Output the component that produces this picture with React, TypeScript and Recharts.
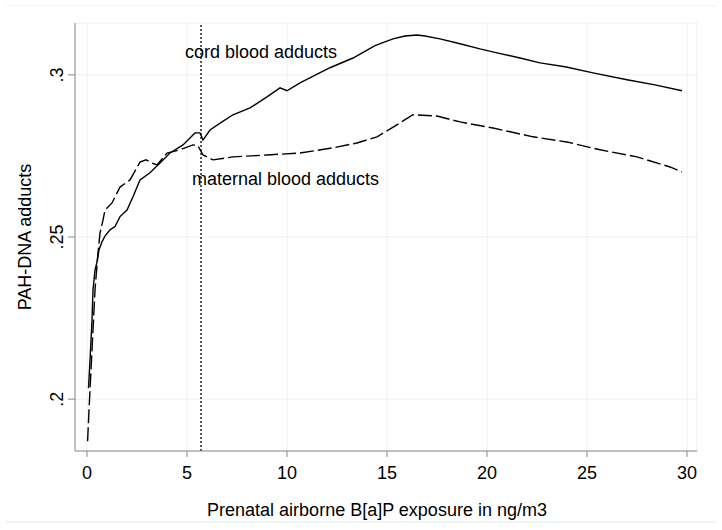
import React from 'react';
import {
  LineChart, Line, XAxis, YAxis, CartesianGrid, ReferenceLine, ReferenceDot,
} from 'recharts';

const cordX = [0.075, 0.15, 0.25, 0.3, 0.4, 0.5, 0.6, 0.75, 0.9, 1.15, 1.4, 1.65, 2.0, 2.3, 2.65, 3.15, 3.65, 4.15, 4.8, 5.4, 5.65, 5.8, 6.15, 6.75, 7.3, 8.15, 9.0, 9.65, 10.0, 10.65, 12.15, 13.3, 14.4, 15.3, 15.9, 16.5, 16.9, 17.65, 18.65, 19.65, 20.5, 21.65, 22.65, 23.9, 25.3, 27.0, 28.4, 29.75];
const cordY = [0.2034, 0.2120, 0.2244, 0.2336, 0.2398, 0.2423, 0.2460, 0.2485, 0.2503, 0.2522, 0.2532, 0.2563, 0.2583, 0.2624, 0.2676, 0.2698, 0.2728, 0.2759, 0.2784, 0.2821, 0.2821, 0.2799, 0.2830, 0.2855, 0.2877, 0.2898, 0.2932, 0.2960, 0.2951, 0.2975, 0.3022, 0.3052, 0.3090, 0.3111, 0.3120, 0.3123, 0.3120, 0.3111, 0.3096, 0.3080, 0.3068, 0.3052, 0.3037, 0.3025, 0.3006, 0.2985, 0.2969, 0.2951];

const maternalX = [0.03, 0.1, 0.2, 0.3, 0.4, 0.48, 0.55, 0.65, 0.8, 0.9, 1.25, 1.65, 2.15, 2.65, 2.95, 3.25, 3.5, 4.0, 4.65, 5.3, 5.55, 5.8, 6.3, 7.3, 9.0, 10.65, 12.3, 13.5, 14.5, 15.65, 16.3, 17.5, 18.65, 20.3, 22.3, 24.0, 25.65, 27.5, 29.15, 29.75];
const maternalY = [0.1870, 0.1966, 0.2090, 0.2213, 0.2336, 0.2398, 0.2451, 0.2512, 0.2552, 0.2583, 0.2605, 0.2654, 0.2676, 0.2731, 0.2738, 0.2728, 0.2722, 0.2759, 0.2769, 0.2784, 0.2781, 0.2753, 0.2738, 0.2747, 0.2753, 0.2759, 0.2775, 0.2790, 0.2809, 0.2852, 0.2877, 0.2873, 0.2855, 0.2836, 0.2809, 0.2793, 0.2769, 0.2747, 0.2716, 0.2701];

const xTicks = [0, 5, 10, 15, 20, 25, 30];
const yTicks = [0.2, 0.25, 0.3];
const yTickLabels = ['.2', '.25', '.3'];
const cutoffX = 5.7;

const cordData = cordX.map((x, i) => ({ x, y: cordY[i] }));
const maternalData = maternalX.map((x, i) => ({ x, y: maternalY[i] }));

const FONT = '"Liberation Sans", Arial, sans-serif';
const FS = 18;
const AXIS_COLOR = '#8a8a8a';

const YTick = (props: any) => {
  const { x, y, payload } = props;
  const idx = yTicks.indexOf(payload.value);
  const label = idx >= 0 ? yTickLabels[idx] : String(payload.value);
  return (
    <text
      x={x}
      y={y}
      transform={`rotate(-90 ${x} ${y})`}
      textAnchor="middle"
      dy="0.35em"
      fontSize={FS}
      fontFamily={FONT}
      fill="#000"
    >
      {label}
    </text>
  );
};

export default function App() {
  return (
    <div style={{ position: 'absolute', left: 0, top: 0, width: 722, height: 530, background: '#fff' }}>
      <div style={{ position: 'absolute', left: 6, top: 5, width: 710, height: 518, borderTop: '1px solid #f2f2f2', borderBottom: '2px solid #ecf7f5', boxSizing: 'border-box' }} />
      <LineChart
        width={722}
        height={530}
        margin={{ top: 23, right: 25, bottom: 8, left: 0 }}
        style={{ fontFamily: FONT, position: 'relative' }}
      >
        <CartesianGrid stroke="#eef0f1" strokeWidth={1} />
        <XAxis
          type="number"
          dataKey="x"
          domain={[-0.6, 30.5]}
          ticks={xTicks}
          allowDataOverflow
          height={71}
          tickSize={6}
          tickMargin={9}
          stroke={AXIS_COLOR}
          tick={{ fill: '#000', fontSize: FS, fontFamily: FONT }}
          label={{
            value: 'Prenatal airborne B[a]P exposure in ng/m3',
            position: 'insideBottom',
            offset: 6,
            dx: -9,
            fill: '#000',
            fontSize: FS,
            fontFamily: FONT,
          }}
        />
        <YAxis
          type="number"
          dataKey="y"
          domain={[0.184, 0.316]}
          ticks={yTicks}
          allowDataOverflow
          width={75}
          tickSize={7}
          tickMargin={11}
          stroke={AXIS_COLOR}
          tick={<YTick />}
          label={{
            value: 'PAH-DNA adducts',
            angle: -90,
            position: 'insideLeft',
            offset: 25,
            fill: '#000',
            fontSize: FS,
            fontFamily: FONT,
            style: { textAnchor: 'middle' },
          }}
        />
        <ReferenceLine x={cutoffX} stroke="#222" strokeWidth={1.5} strokeDasharray="2 2" />
        <Line
          data={cordData}
          dataKey="y"
          type="linear"
          stroke="#000"
          strokeWidth={1.4}
          dot={false}
          isAnimationActive={false}
        />
        <Line
          data={maternalData}
          dataKey="y"
          type="linear"
          stroke="#000"
          strokeWidth={1.4}
          strokeDasharray="14 4"
          dot={false}
          isAnimationActive={false}
        />
        <ReferenceDot
          x={4.9}
          y={0.3071}
          r={0}
          stroke="none"
          fill="none"
          label={{ value: 'cord blood adducts', position: 'right', offset: 0, fill: '#000', fontSize: FS, fontFamily: FONT }}
        />
        <ReferenceDot
          x={5.25}
          y={0.2679}
          r={0}
          stroke="none"
          fill="none"
          label={{ value: 'maternal blood adducts', position: 'right', offset: 0, fill: '#000', fontSize: FS, fontFamily: FONT }}
        />
      </LineChart>
    </div>
  );
}
